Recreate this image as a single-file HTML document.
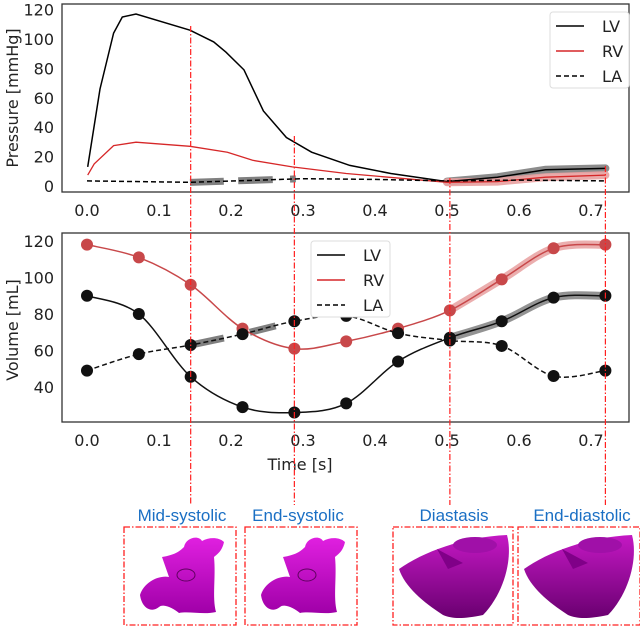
<!DOCTYPE html>
<html><head><meta charset="utf-8"><style>
body{margin:0;background:#fff;width:640px;height:626px;overflow:hidden}
svg{font-family:"DejaVu Sans","Liberation Sans",sans-serif}
</style></head><body>
<svg id="fig" width="640" height="626" xmlns="http://www.w3.org/2000/svg">
<defs>
<linearGradient id="mg" x1="0" y1="0" x2="0" y2="1"><stop offset="0" stop-color="#e020e0"/><stop offset="1" stop-color="#a000a8"/></linearGradient>
<linearGradient id="mg2" x1="0" y1="0" x2="0" y2="1"><stop offset="0" stop-color="#c418c4"/><stop offset="1" stop-color="#6a0070"/></linearGradient>
</defs>
<g id="topc"></g>
<g id="botc"></g>
<g id="ann"></g>
</svg>
<script>
// ---- data ----
const pTimes=[0.001,0.018,0.037,0.049,0.068,0.143,0.176,0.193,0.218,0.245,0.277,0.312,0.365,0.422,0.5,0.57,0.637,0.72];
const lvP=[13,66,104,115,117,106,98,91,79,51,33,23,14,8.5,3,6,11,12];
const rvTimes=[0.001,0.01,0.037,0.068,0.143,0.195,0.23,0.285,0.36,0.5,0.57,0.637,0.72];
const rvP=[7.4,15,27.5,29.8,27,23,17.5,13,8.5,2.5,3,6,7.4];
const laTimes=[0,0.143,0.3,0.4,0.5,0.6,0.72];
const laP=[3.5,2.5,5,4.5,3.5,4,3.5];
const vTimes=[0,0.072,0.144,0.216,0.288,0.36,0.432,0.504,0.576,0.648,0.72];
const lvV=[90,80,45.6,29,26,31,54,67,76,89,90];
const rvV=[118,111,96,72,61,65,72,82,99,116,118];
const laV=[49,58,63,69,76,79,69.5,65.5,62.5,46,49];
const xTicks=[0,0.1,0.2,0.3,0.4,0.5,0.6,0.7];
const pTicks=[0,20,40,60,80,100,120];
const vTicks=[40,60,80,100,120];
const phaseTimes=[0.144,0.288,0.504,0.72];
const phaseNames=["Mid-systolic","End-systolic","Diastasis","End-diastolic"];

const NS="http://www.w3.org/2000/svg";
const X=t=>87+720*t;
const YP=p=>186-1.47*p;
const YV=v=>387-1.825*(v-40);
function mk(par,tag,attrs,name,txt){const e=document.createElementNS(NS,tag);for(const k in attrs)e.setAttribute(k,attrs[k]);


if(txt!==undefined)e.textContent=txt;par.appendChild(e);return e;}
function lin(xs,ys){return xs.map((x,i)=>(i?'L':'M')+x.toFixed(1)+','+ys[i].toFixed(1)).join('');}
function spline(xs,ys){let d='M'+xs[0]+','+ys[0];for(let i=0;i<xs.length-1;i++){const x0=xs[Math.max(i-1,0)],y0=ys[Math.max(i-1,0)],x3=xs[Math.min(i+2,xs.length-1)],y3=ys[Math.min(i+2,xs.length-1)];
const c1x=xs[i]+(xs[i+1]-x0)/6,c1y=ys[i]+(ys[i+1]-y0)/6,c2x=xs[i+1]-(x3-xs[i])/6,c2y=ys[i+1]-(y3-ys[i])/6;
d+=`C${c1x.toFixed(1)},${c1y.toFixed(1)} ${c2x.toFixed(1)},${c2y.toFixed(1)} ${xs[i+1].toFixed(1)},${ys[i+1].toFixed(1)}`;}return d;}
function sub(ts,vs,a,b){const xs=[],ys=[];ts.forEach((t,i)=>{if(t>=a-1e-6&&t<=b+1e-6){xs.push(t);ys.push(vs[i]);}});return [xs,ys];}

// ---- top chart ----
const topG=document.getElementById('topc');
let [bt,bv]=sub(pTimes,lvP,0.5,0.72);
mk(topG,'path',{d:lin(bt.map(X),bv.map(YP)),fill:'none',stroke:'#808080',"stroke-width":8,"stroke-linecap":'round',opacity:0.9},'lv-pressure-band');
[bt,bv]=sub(rvTimes,rvP,0.5,0.72);
mk(topG,'path',{d:lin(bt.map(X),bv.map(YP)),fill:'none',stroke:'#e8a0a0',"stroke-width":8,"stroke-linecap":'round',opacity:0.9},'rv-pressure-band');
[[0.143,0.19],[0.21,0.258],[0.282,0.29]].forEach(([a,b])=>{const ya=YP(2.5+(a-0.143)/0.157*2.5),yb=YP(2.5+(b-0.143)/0.157*2.5);
mk(topG,'line',{x1:X(a),y1:ya,x2:X(b),y2:yb,stroke:'#808080',"stroke-width":7},'la-pressure-band');});
mk(topG,'path',{d:lin(pTimes.map(X),lvP.map(YP)),fill:'none',stroke:'#000',"stroke-width":1.5},'lv-pressure-line');
mk(topG,'path',{d:lin(rvTimes.map(X),rvP.map(YP)),fill:'none',stroke:'#d62728',"stroke-width":1.3},'rv-pressure-line');
mk(topG,'path',{d:lin(laTimes.map(X),laP.map(YP)),fill:'none',stroke:'#000',"stroke-width":1.5,"stroke-dasharray":'5,3'},'la-pressure-line');
mk(topG,'rect',{x:62,y:4,width:567,height:188,fill:'none',stroke:'#333',"stroke-width":1.3},'pressure-axes-frame');
pTicks.forEach(v=>mk(topG,'text',{x:54,y:YP(v)+6,"text-anchor":'end',"font-size":16,fill:'#222'},'y-tick-label',String(v)));
xTicks.forEach(v=>mk(topG,'text',{x:X(v),y:216,"text-anchor":'middle',"font-size":16,fill:'#222'},'x-tick-label',v.toFixed(1)));
mk(topG,'text',{x:0,y:0,transform:'translate(18,98) rotate(-90)',"text-anchor":'middle',"font-size":16,fill:'#222'},'y-axis-title','Pressure [mmHg]');
function legend(par,x,y,name){mk(par,'rect',{x:x,y:y,width:79,height:76,fill:'#fff',stroke:'#ddd',rx:3},name);
const items=[['LV','#000',''],['RV','#d62728',''],['LA','#000','5,3']];
items.forEach((it,i)=>{const yy=y+14+i*25;mk(par,'line',{x1:x+6,y1:yy,x2:x+34,y2:yy,stroke:it[1],"stroke-width":1.5,"stroke-dasharray":it[2]||'none'},'legend-swatch');
mk(par,'text',{x:x+52,y:yy+6,"font-size":16,fill:'#222'},'legend-entry',it[0]);});}
legend(topG,550,12,'pressure-legend');

// ---- bottom chart ----
const botG=document.getElementById('botc');
function band(ts,vs,a,b,col,nm){const [t,v]=sub(ts,vs,a,b);mk(botG,'path',{d:spline(t.map(X),v.map(YV)),fill:'none',stroke:col,"stroke-width":8,"stroke-linecap":'round',opacity:0.85},nm);}
band(vTimes,lvV,0.504,0.72,'#808080','lv-volume-band');
band(vTimes,rvV,0.504,0.72,'#e8a0a0','rv-volume-band');
[[0.144,0.19],[0.226,0.262]].forEach(([a,b])=>{const f=t=>{for(let i=0;i<vTimes.length-1;i++)if(t<=vTimes[i+1]){const r=(t-vTimes[i])/(vTimes[i+1]-vTimes[i]);return laV[i]+r*(laV[i+1]-laV[i]);}return laV[laV.length-1];};
mk(botG,'line',{x1:X(a),y1:YV(f(a)),x2:X(b),y2:YV(f(b)),stroke:'#808080',"stroke-width":7},'la-volume-band');});
function series(vs,col,dash,nm){mk(botG,'path',{d:spline(vTimes.map(X),vs.map(YV)),fill:'none',stroke:col,"stroke-width":1.5,"stroke-dasharray":dash||'none'},nm+'-line');
vTimes.forEach((t,i)=>mk(botG,'circle',{cx:X(t),cy:YV(vs[i]),r:6,fill:col},nm+'-point'));}
series(rvV,'#c8484a','','rv-volume');
series(laV,'#111','5,3','la-volume');
series(lvV,'#111','','lv-volume');
mk(botG,'rect',{x:62,y:233,width:567,height:189,fill:'none',stroke:'#333',"stroke-width":1.3},'volume-axes-frame');
vTicks.forEach(v=>mk(botG,'text',{x:54,y:YV(v)+6,"text-anchor":'end',"font-size":16,fill:'#222'},'y-tick-label',String(v)));
xTicks.forEach(v=>mk(botG,'text',{x:X(v),y:446,"text-anchor":'middle',"font-size":16,fill:'#222'},'x-tick-label',v.toFixed(1)));
mk(botG,'text',{x:0,y:0,transform:'translate(18,330) rotate(-90)',"text-anchor":'middle',"font-size":16,fill:'#222'},'y-axis-title','Volume [mL]');
mk(botG,'text',{x:X(0.3)-3,y:470,"text-anchor":'middle',"font-size":16,fill:'#222'},'x-axis-title','Time [s]');
legend(botG,311,241,'volume-legend');

// ---- annotations ----
const ann=document.getElementById('ann');
const lineTop=[26,136,178,166];
phaseTimes.forEach((t,i)=>mk(ann,'line',{x1:X(t),y1:lineTop[i],x2:X(t),y2:505,stroke:'#ff2020',"stroke-width":1.2,"stroke-dasharray":'6,2,1.5,2'},'phase-line'));
const boxes=[[124,527,112,98],[245,527,112,98],[393,527,120,98],[518,527,122,98]];
const lblX=[182,298,454,582];
phaseNames.forEach((n,i)=>mk(ann,'text',{x:lblX[i],y:521,"text-anchor":'middle',"font-size":17,fill:'#1a6fc4',"font-family":'"Liberation Sans",sans-serif'},'phase-label',n));
boxes.forEach(b=>mk(ann,'rect',{x:b[0],y:b[1],width:b[2],height:b[3],fill:'none',stroke:'#ff2020',"stroke-width":1.3,"stroke-dasharray":'6,2,1.5,2'},'phase-box'));
function atrium(ox){const g=mk(ann,'g',{transform:`translate(${ox},527)`},'atrium-model');
mk(g,'path',{d:'M16,68 C20,55 35,48 45,50 L38,30 C50,28 55,25 60,20 C62,10 75,8 78,14 C85,10 95,10 100,15 C98,25 92,28 90,30 C92,50 88,70 92,85 C80,88 65,84 55,86 C50,82 40,76 35,80 C28,86 18,82 16,68Z',fill:'url(#mg)'},'atrium-shape');
mk(g,'ellipse',{cx:62,cy:48,rx:9,ry:6,fill:'none',stroke:'#600060',"stroke-width":1},'atrium-ring');}
atrium(124);atrium(245);
function ventricle(ox,w){const g=mk(ann,'g',{transform:`translate(${ox},527)`},'ventricle-model');
mk(g,'path',{d:`M6,42 C30,25 70,10 ${w-6},8 C${w},30 ${w-8},65 ${w-30},88 C${w-50},92 60,92 50,88 C30,75 12,60 6,42Z`,fill:'url(#mg2)'},'ventricle-shape');
mk(g,'ellipse',{cx:w-38,cy:18,rx:22,ry:8,fill:'#a010a8'},'ventricle-opening');
mk(g,'path',{d:'M44,22 L55,42 L70,36Z',fill:'#800088'},'ventricle-notch');}
ventricle(393,120);ventricle(518,120);
</script>
</body></html>
